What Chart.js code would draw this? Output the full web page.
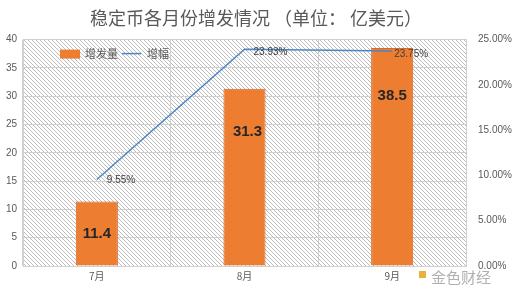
<!DOCTYPE html>
<html>
<head>
<meta charset="utf-8">
<script src="https://cdn.jsdelivr.net/npm/chart.js@4"></script>
<style>
  html, body { margin: 0; padding: 0; background: #fff; }
  #wrap { width: 512px; height: 290px; position: relative; }
</style>
</head>
<body>
<div id="wrap"><canvas id="c"></canvas></div>
<script>
// data
const months    = ["7月", "8月", "9月"];
const issuance  = [11.4, 31.3, 38.5];      // 增发量 (亿美元)
const growthPct = [9.55, 23.93, 23.75];    // 增幅 (%)
const leftTicks  = [0, 5, 10, 15, 20, 25, 30, 35, 40];
const rightTicks = [0, 5, 10, 15, 20, 25];

const FONT = "'Liberation Sans', Arial, sans-serif";
const CJK  = "'Noto Sans CJK SC', sans-serif";

// diagonal hatch used as plot background
function hatch() {
  const p = document.createElement("canvas");
  p.width = 4; p.height = 4;
  const g = p.getContext("2d");
  g.fillStyle = "#fff"; g.fillRect(0, 0, 4, 4);
  g.strokeStyle = "#b4b4b4"; g.lineWidth = 0.9;
  g.beginPath();
  g.moveTo(0, 0); g.lineTo(4, 4);
  g.moveTo(-1, 3); g.lineTo(1, 5);
  g.moveTo(3, -1); g.lineTo(5, 1);
  g.stroke();
  return g.createPattern(p, "repeat");
}

const bgPlugin = {
  id: "bg",
  beforeDraw(chart) {
    const { ctx, chartArea: a } = chart;
    ctx.save();
    ctx.fillStyle = hatch();
    ctx.fillRect(a.left, a.top, a.right - a.left, a.bottom - a.top);
    ctx.restore();
  }
};

// value labels, placed like the reference (offsets in px)
const labelPlugin = {
  id: "labels",
  afterDatasetsDraw(chart) {
    const ctx = chart.ctx;
    ctx.save();
    const bars = chart.getDatasetMeta(0).data;
    const barDy = [32, 43, 48];
    ctx.font = "bold 15px " + FONT;
    ctx.fillStyle = "#262626";
    ctx.textAlign = "center";
    ctx.textBaseline = "middle";
    bars.forEach((b, i) => ctx.fillText(issuance[i].toFixed(1), b.x + (i === 1 ? 3 : 0), b.y + barDy[i]));

    const pts = chart.getDatasetMeta(1).data;
    const lx = [10, 9, 2], ly = [1, 3, 3];
    ctx.font = "10px " + FONT;
    ctx.fillStyle = "#404040";
    ctx.textAlign = "left";
    pts.forEach((p, i) => ctx.fillText(growthPct[i].toFixed(2) + "%", p.x + lx[i], p.y + ly[i]));

    // legend inside the plot
    const a = chart.chartArea;
    const y = a.top + 14;
    ctx.fillStyle = "#ED7D31";
    ctx.fillRect(60, y - 4, 20, 9);
    ctx.font = "11px " + CJK;
    ctx.fillStyle = "#595959";
    ctx.textBaseline = "middle";
    ctx.fillText("增发量", 85, y);
    ctx.strokeStyle = "#4A86C5"; ctx.lineWidth = 1.5;
    ctx.beginPath(); ctx.moveTo(122, y); ctx.lineTo(141, y); ctx.stroke();
    ctx.fillText("增幅", 147, y);

    // source mark bottom-right
    ctx.fillStyle = "#E8B23A";
    ctx.fillRect(419, 271, 7, 7);
    ctx.font = "15px " + CJK;
    ctx.fillStyle = "#b0b0b0";
    ctx.fillText("金色财经", 431, 277);
    ctx.restore();
  }
};

new Chart(document.getElementById("c"), {
  type: "bar",
  data: {
    labels: months,
    datasets: [
      {
        type: "bar", label: "增发量", data: issuance, yAxisID: "y",
        backgroundColor: "#ED7D31", borderColor: "#D8692A", borderWidth: 1,
        categoryPercentage: 1, barPercentage: 0.285, order: 2
      },
      {
        type: "line", label: "增幅", data: growthPct, yAxisID: "y1",
        borderColor: "#4A86C5", borderWidth: 1.5, pointRadius: 0,
        tension: 0, order: 1
      }
    ]
  },
  options: {
    responsive: true,
    maintainAspectRatio: false,
    animation: false,
    plugins: {
      legend: { display: false },
      tooltip: { enabled: false },
      title: {
        display: true,
        text: "稳定币各月份增发情况 （单位： 亿美元）",
        color: "#595959",
        font: { family: CJK, size: 18, weight: "normal" },
        padding: { top: 7, bottom: 11 }
      }
    },
    scales: {
      x: {
        grid: { color: "#d0d0d0", offset: true, drawTicks: false },
        border: { color: "#d0d0d0" },
        ticks: { color: "#595959", font: { family: CJK, size: 10 }, padding: 4 },
        afterFit(s) { s.height = 24; }
      },
      y: {
        position: "left", min: 0, max: 40,
        afterBuildTicks(s) { s.ticks = leftTicks.map(v => ({ value: v })); },
        grid: { color: "#d0d0d0", drawTicks: false },
        border: { color: "#d0d0d0" },
        ticks: { color: "#595959", font: { family: FONT, size: 10 }, padding: 6 },
        afterFit(s) { s.width = 23; }
      },
      y1: {
        position: "right", min: 0, max: 25,
        afterBuildTicks(s) { s.ticks = rightTicks.map(v => ({ value: v })); },
        grid: { display: false },
        border: { color: "#d0d0d0" },
        ticks: {
          color: "#595959", font: { family: FONT, size: 10 }, padding: 4,
          callback: v => v.toFixed(2) + "%"
        },
        afterFit(s) { s.width = 46; }
      }
    }
  },
  plugins: [bgPlugin, labelPlugin]
});
</script>
</body>
</html>
